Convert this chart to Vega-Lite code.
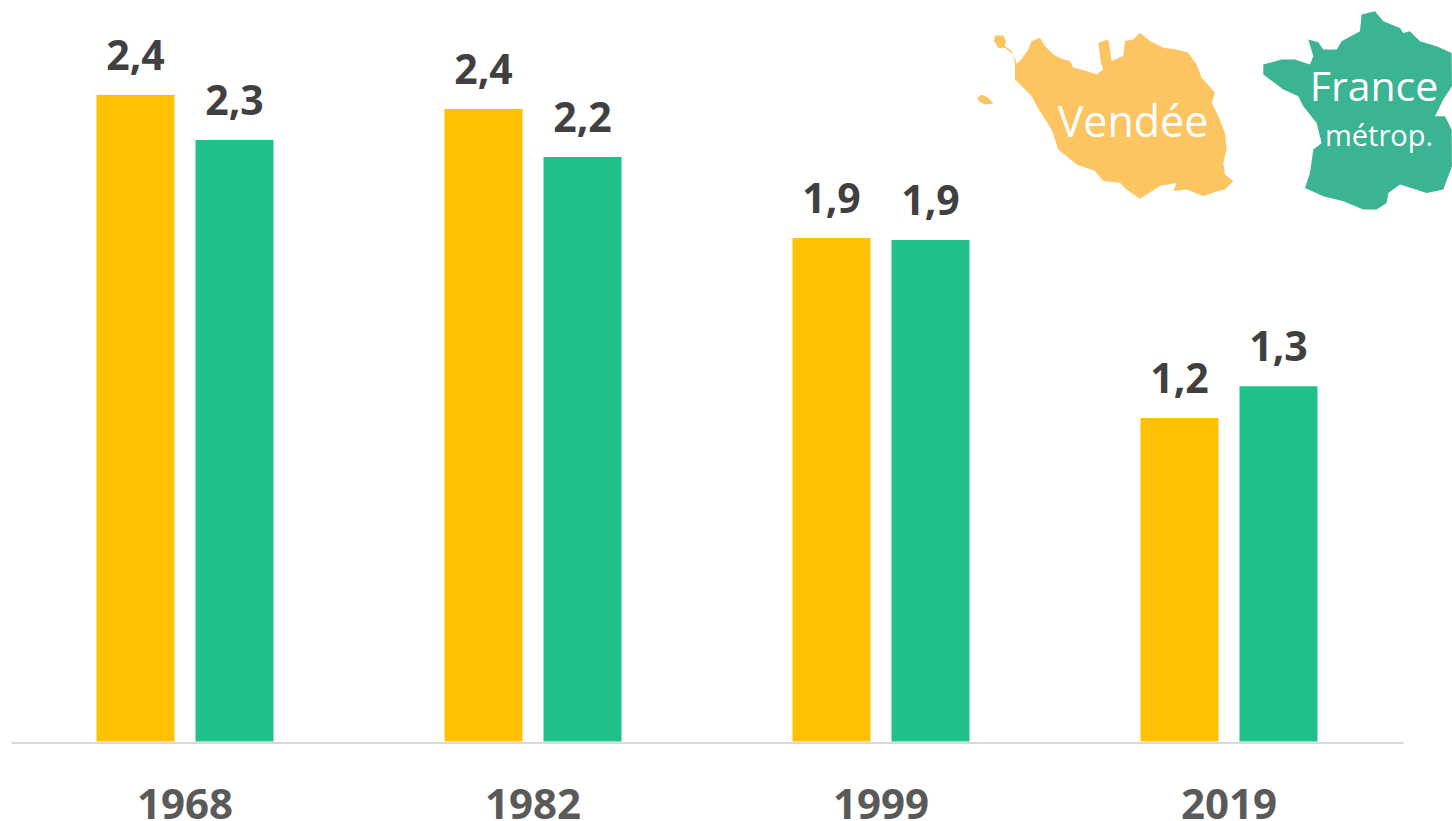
{"$schema":"https://vega.github.io/schema/vega-lite/v6.json","width":1392,"height":741.5,"autosize":{"type":"none"},"padding":{"left":11,"top":0,"right":49,"bottom":79.5},"background":"white","config":{"view":{"stroke":null}},
"datasets":{"bars":[
{"annee":"1968","serie":"Vendée","valeur":2.412,"label":"2,4"},{"annee":"1968","serie":"France métrop.","valeur":2.244,"label":"2,3"},
{"annee":"1982","serie":"Vendée","valeur":2.360,"label":"2,4"},{"annee":"1982","serie":"France métrop.","valeur":2.181,"label":"2,2"},
{"annee":"1999","serie":"Vendée","valeur":1.879,"label":"1,9"},{"annee":"1999","serie":"France métrop.","valeur":1.871,"label":"1,9"},
{"annee":"2019","serie":"Vendée","valeur":1.207,"label":"1,2"},{"annee":"2019","serie":"France métrop.","valeur":1.326,"label":"1,3"}]},
"encoding":{
"x":{"field":"annee","type":"nominal","scale":{"domain":["1968","1982","1999","2019"],"paddingInner":0,"paddingOuter":0},"axis":{"title":null,"labelAngle":0,"ticks":false,"domainColor":"#d9d9d9","domainWidth":2,"offset":1,"labelFont":"Open Sans","labelFontWeight":"bold","labelFontSize":42,"labelColor":"#5a5a5a","labelBaseline":"alphabetic","labelPadding":76}},
"y":{"field":"valeur","type":"quantitative","scale":{"domain":[0,2.7668],"nice":false},"axis":null}},
"layer":[
{"data":{"name":"bars"},"mark":{"type":"bar"},"encoding":{"xOffset":{"field":"serie","type":"nominal","sort":["Vendée","France métrop."],"scale":{"paddingInner":0.212,"paddingOuter":0.8636}},"color":{"field":"serie","type":"nominal","legend":null,"scale":{"domain":["Vendée","France métrop."],"range":["#FFC000","#20C08C"]}}}},
{"data":{"name":"bars"},"mark":{"type":"text","font":"Open Sans","fontWeight":"bold","fontSize":41,"color":"#404040","baseline":"alphabetic","dy":-25},"encoding":{"xOffset":{"field":"serie","type":"nominal","sort":["Vendée","France métrop."],"scale":{"paddingInner":0.212,"paddingOuter":0.8636}},"text":{"field":"label"}}},
{"data":{"values":[{"annee":"2019","valeur":2.346,"serie":"Vendée"}]},"mark":{"type":"point","filled":true,"opacity":1,"color":"#FDC462","size":0.4444,"xOffset":-125.7,"shape":"M-265,-145L-250,-155L-225,-190L-215,-215L-190,-225L-175,-200L-150,-175L-125,-162L-100,-155L-90,-135L-60,-128L-20,-115L0,-130L-8,-155L-15,-210L15,-220L20,-190L25,-155L60,-170L65,-215L90,-220L110,-240L140,-215L180,-195L220,-190L255,-180L280,-145L295,-105L335,-60L325,-30L345,10L365,60L370,110L360,150L365,185L390,205L365,230L345,235L300,250L250,230L210,235L220,210L170,220L110,258L70,230L50,210L0,205L-25,175L-80,155L-135,110L-155,50L-200,-20L-215,-50L-265,-100ZM-265,-145L-270,-175L-295,-195L-315,-195L-328,-215L-325,-232L-300,-232L-292,-215L-295,-200L-275,-185L-260,-150ZM-378,-45L-365,-55L-345,-45L-330,-28L-355,-25L-375,-35Z"}},
{"data":{"values":[{"annee":"2019","valeur":2.358,"serie":"France métrop."}]},"mark":{"type":"point","filled":true,"opacity":1,"color":"#3BB493","size":0.4444,"xOffset":129.3,"shape":"M-285,-135L-230,-150L-190,-150L-145,-135L-135,-160L-150,-210L-120,-202L-105,-180L-65,-180L-50,-205L5,-235L10,-285L50,-295L75,-265L125,-245L135,-230L155,-235L185,-205L235,-190L280,-170L281,-70L255,-30L230,20L260,20L280,60L281,170L255,240L205,250L125,225L90,250L85,280L55,300L15,300L-45,275L-105,260L-160,235L-145,190L-135,120L-110,100L-125,40L-165,-10L-180,-40L-225,-60L-265,-90L-285,-105Z"}},
{"data":{"values":[{"annee":"2019","valeur":2.304,"nom":"Vendée"}]},"mark":{"type":"text","font":"Open Sans","fontSize":43,"color":"white","xOffset":-96,"baseline":"middle"},"encoding":{"text":{"field":"nom"}}},
{"data":{"values":[{"annee":"2019","valeur":2.436,"nom":"France"}]},"mark":{"type":"text","font":"Open Sans","fontSize":41,"color":"white","xOffset":145,"baseline":"middle"},"encoding":{"text":{"field":"nom"}}},
{"data":{"values":[{"annee":"2019","valeur":2.254,"nom":"métrop."}]},"mark":{"type":"text","font":"Open Sans","fontSize":29,"color":"white","xOffset":150,"baseline":"middle"},"encoding":{"text":{"field":"nom"}}}
]}
